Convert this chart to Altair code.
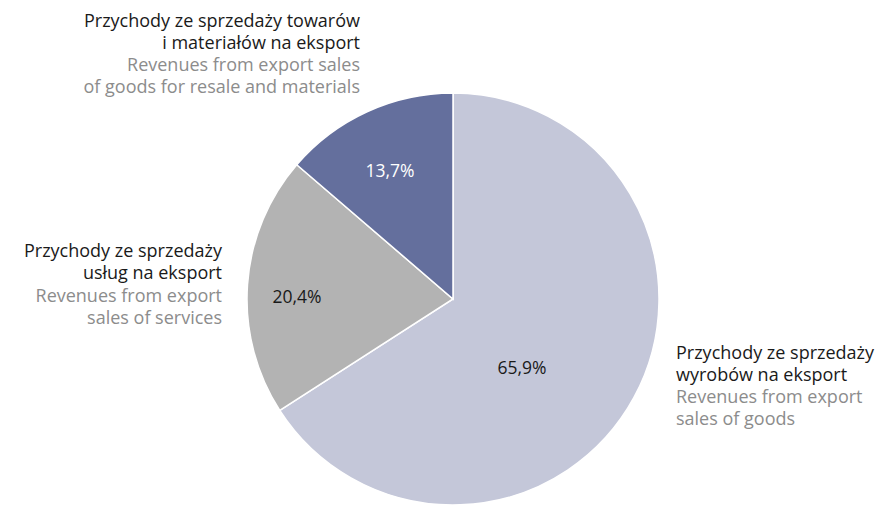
import altair as alt
import pandas as pd

categories = ["wyroby", "uslugi", "towary"]
shares = [65.9, 20.4, 13.7]
pct_labels = ["65,9%", "20,4%", "13,7%"]
colors = ["#c4c7d9", "#b3b3b3", "#646f9d"]
order = [1, 2, 3]

df = pd.DataFrame({"cat": categories, "share": shares, "ord": order, "lab": pct_labels})

CX, CY, R = 445, 291, 206
FONT = "Open Sans"

pie = alt.Chart(df).mark_arc(radius=R, stroke="white", strokeWidth=1.5).encode(
    theta=alt.Theta("share:Q", stack=True),
    order=alt.Order("ord:Q"),
    color=alt.Color("cat:N", scale=alt.Scale(domain=categories, range=colors), legend=None),
    x=alt.value(CX), y=alt.value(CY),
)

def txt(text, x, y, align="right", color="#1a1a1a", size=18):
    return alt.Chart(df.head(1)).mark_text(
        text=text, align=align, baseline="middle", font=FONT, fontSize=size,
        color=color, lineHeight=22,
    ).encode(x=alt.value(x), y=alt.value(y))

layers = [pie,
    txt("65,9%", 514, 361, align="center", size=17.5),
    txt("20,4%", 289, 290, align="center", size=17.5),
    txt("13,7%", 382, 164, align="center", color="#ffffff", size=17.5),
    txt(["Przychody ze sprzedaży towarów", "i materiałów na eksport"], 352, 14),
    txt(["Revenues from export sales", "of goods for resale and materials"], 352, 58, color="#8c8c8c"),
    txt(["Przychody ze sprzedaży", "usług na eksport"], 214, 244),
    txt(["Revenues from export", "sales of services"], 214, 289, color="#8c8c8c"),
    txt(["Przychody ze sprzedaży", "wyrobów na eksport"], 668, 346, align="left"),
    txt(["Revenues from export", "sales of goods"], 668, 390, align="left", color="#8c8c8c"),
]

chart = alt.layer(*layers).properties(
    width=873, height=497, padding=0, autosize=alt.AutoSizeParams(type="none")
).configure_view(stroke=None)

chart.save("out.html", embed_options={"renderer": "svg", "actions": False})
